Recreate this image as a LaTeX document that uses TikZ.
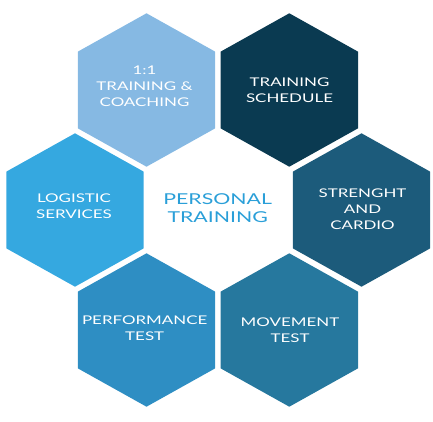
\documentclass[tikz,border=0pt]{standalone}
\usepackage{fontspec}
\setmainfont{Lato}
\newfontfamily\labfont[FakeStretch=1.41]{Lato}
\newfontfamily\cenfont[FakeStretch=1.42]{Lato}
\definecolor{cTL}{HTML}{86B9E3}
\definecolor{cTR}{HTML}{0A3A51}
\definecolor{cL}{HTML}{35A8E0}
\definecolor{cR}{HTML}{1C5B7B}
\definecolor{cBL}{HTML}{2E8EC3}
\definecolor{cBR}{HTML}{26789E}
\definecolor{cCenter}{HTML}{2A9FD8}
\newcommand\hexcell[3]{%
  \fill[#3] (#1,#2) ++(0,-76.7) -- ++(68.7,38.35) -- ++(0,76.7) -- ++(-68.7,38.35) -- ++(-68.7,-38.35) -- ++(0,-76.7) -- cycle;}
\tikzset{
  lab/.style={align=center, text=white, inner sep=0pt, font=\labfont\fontsize{12}{16}\selectfont},
  centerlab/.style={align=center, text=cCenter, inner sep=0pt, font=\cenfont\fontsize{15}{18.3}\selectfont}
}
\begin{document}
\begin{tikzpicture}[x=1pt,y=-1pt]
\useasboundingbox (0,0) rectangle (433,422);
\hexcell{146.5}{90}{cTL}
\hexcell{289.3}{90}{cTR}
\hexcell{75}{210}{cL}
\hexcell{361.5}{210}{cR}
\hexcell{146.5}{330}{cBL}
\hexcell{289.3}{330}{cBR}
\node[lab] (tl) at (144.5,86) {1:1\\TRAINING \&\\COACHING};
\node[lab] (tr) at (289.5,90) {TRAINING\\SCHEDULE};
\node[lab] (l) at (74,206) {LOGISTIC\\SERVICES};
\node[lab] (r) at (362.5,209.5) {STRENGHT\\AND\\CARDIO};
\node[lab] (bl) at (144.7,328) {PERFORMANCE\\TEST};
\node[lab] (br) at (290,330) {MOVEMENT\\TEST};
\node[centerlab] (c) at (217.7,208) {PERSONAL\\TRAINING};
\end{tikzpicture}
\end{document}
